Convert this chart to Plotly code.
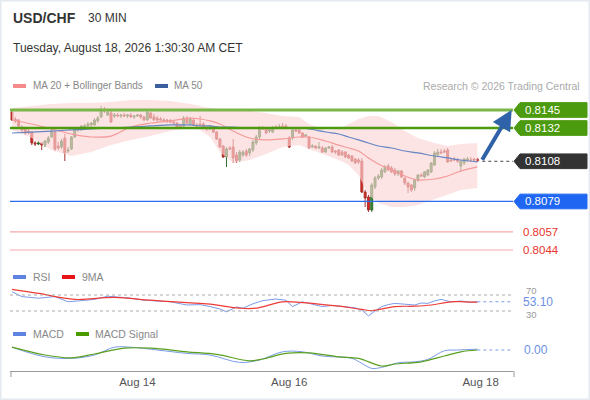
"""
USD/CHF 30 MIN chart (Trading Central style) rebuilt with plotly
price candles + MA20 / Bollinger + MA50, RSI panel, MACD panel
"""

import plotly.graph_objects as go

W, H = 590, 400
FONT = "Liberation Sans, Arial, sans-serif"

# ---- 30 min candles ----
candle_open = [
    .81436, .81385, .81378, .81327, .81313, .81298, .81291, .81212, .81205, .81212,
    .81197, .81219, .81255, .81291, .81190, .81183, .81248, .81154, .81169, .81255,
    .81306, .81306, .81327, .81335, .81342, .81342, .81371, .81400, .81450, .81414,
    .81428, .81407, .81414, .81407, .81414, .81407, .81414, .81400, .81407, .81414,
    .81400, .81378, .81428, .81400, .81392, .81385, .81378, .81378, .81371, .81363,
    .81356, .81335, .81335, .81392, .81349, .81378, .81342, .81349, .81349, .81327,
    .81313, .81327, .81291, .81241, .81190, .81111, .81176, .81183, .81125, .81089,
    .81125, .81154, .81140, .81161, .81212, .81255, .81320, .81313, .81298, .81291,
    .81327, .81327, .81335, .81335, .81248, .81248, .81306, .81306, .81284, .81262,
    .81255, .81183, .81190, .81176, .81176, .81147, .81176, .81183, .81154, .81161,
    .81147, .81147, .81125, .81118, .81096, .81089, .81082, .80858, .80822, .80729,
    .80894, .80959, .80967, .81003, .81046, .81032, .81017, .80988, .81010, .80959,
    .80923, .80909, .80887, .80945, .80981, .80967, .80981, .81003, .81053, .81125,
    .81147, .81154, .81161, .81089, .81096, .81089, .81046, .81068, .81089, .81089,
    .81096, .81096,
]
candle_high = [
    .81457, .81400, .81385, .81342, .81320, .81313, .81298, .81226, .81226, .81219,
    .81234, .81262, .81313, .81306, .81219, .81241, .81277, .81183, .81262, .81320,
    .81327, .81342, .81349, .81363, .81363, .81392, .81407, .81479, .81472, .81450,
    .81443, .81428, .81428, .81421, .81428, .81421, .81428, .81414, .81421, .81421,
    .81407, .81457, .81436, .81421, .81407, .81400, .81392, .81385, .81385, .81378,
    .81363, .81349, .81407, .81407, .81400, .81385, .81356, .81407, .81363, .81335,
    .81342, .81335, .81298, .81248, .81197, .81183, .81190, .81241, .81147, .81161,
    .81161, .81169, .81176, .81234, .81270, .81335, .81335, .81327, .81320, .81335,
    .81342, .81349, .81356, .81349, .81262, .81313, .81320, .81313, .81291, .81277,
    .81262, .81205, .81197, .81219, .81190, .81183, .81190, .81197, .81161, .81169,
    .81161, .81154, .81133, .81125, .81104, .81104, .81104, .80873, .80837, .80923,
    .80974, .80988, .81032, .81053, .81060, .81046, .81032, .81017, .81017, .80967,
    .80931, .80916, .80952, .80988, .80995, .81010, .81024, .81075, .81154, .81169,
    .81169, .81169, .81176, .81104, .81111, .81104, .81089, .81104, .81111, .81111,
    .81104, .81104,
]
candle_low = [
    .81371, .81356, .81327, .81291, .81270, .81277, .81197, .81190, .81197, .81161,
    .81183, .81205, .81248, .81154, .81161, .81169, .81082, .81140, .81161, .81248,
    .81291, .81298, .81313, .81320, .81327, .81335, .81356, .81392, .81428, .81407,
    .81356, .81392, .81400, .81392, .81400, .81392, .81392, .81385, .81400, .81385,
    .81371, .81371, .81385, .81371, .81363, .81371, .81363, .81356, .81356, .81342,
    .81320, .81320, .81327, .81349, .81342, .81335, .81327, .81335, .81320, .81298,
    .81306, .81284, .81234, .81176, .81104, .81039, .81161, .81068, .81068, .81075,
    .81111, .81111, .81118, .81147, .81197, .81241, .81306, .81277, .81284, .81284,
    .81313, .81313, .81320, .81320, .81176, .81234, .81291, .81277, .81248, .81255,
    .81169, .81176, .81169, .81169, .81140, .81140, .81169, .81140, .81133, .81118,
    .81118, .81104, .81096, .81075, .81060, .81060, .80851, .80750, .80714, .80714,
    .80880, .80945, .80952, .80995, .81010, .80995, .80974, .80974, .80959, .80909,
    .80851, .80858, .80866, .80931, .80967, .80959, .80974, .80995, .81046, .81118,
    .81133, .81140, .81068, .81075, .81082, .81068, .81003, .81053, .81075, .81075,
    .81075, .81075,
]
candle_close = [
    .81378, .81371, .81335, .81306, .81284, .81284, .81212, .81205, .81212, .81197,
    .81226, .81248, .81298, .81169, .81176, .81226, .81140, .81161, .81255, .81306,
    .81313, .81335, .81335, .81349, .81356, .81378, .81392, .81457, .81443, .81436,
    .81363, .81414, .81407, .81414, .81407, .81414, .81400, .81407, .81414, .81400,
    .81378, .81436, .81392, .81378, .81378, .81378, .81371, .81371, .81363, .81356,
    .81327, .81327, .81392, .81356, .81385, .81342, .81335, .81342, .81327, .81313,
    .81335, .81291, .81241, .81183, .81111, .81169, .81169, .81104, .81082, .81147,
    .81147, .81125, .81169, .81219, .81255, .81320, .81313, .81284, .81306, .81320,
    .81320, .81327, .81327, .81327, .81183, .81306, .81298, .81284, .81255, .81270,
    .81176, .81190, .81176, .81183, .81147, .81176, .81183, .81147, .81147, .81125,
    .81125, .81111, .81104, .81082, .81068, .81075, .80858, .80815, .80729, .80909,
    .80959, .80974, .81017, .81039, .81017, .81003, .80988, .81010, .80967, .80923,
    .80894, .80873, .80945, .80981, .80974, .81003, .81017, .81068, .81140, .81147,
    .81140, .81147, .81075, .81082, .81089, .81082, .81082, .81096, .81096, .81089,
    .81089, .81082,
]
candle_idx = list(range(len(candle_close)))

# MA20 + Bollinger Bands and MA50 (sampled along the candles)
band_idx = [0, 6, 12, 18, 24, 30, 36, 42, 48, 54, 57, 60, 63, 67, 72, 77,
            82, 87, 90, 95, 99, 102, 105, 108, 111, 115, 119, 123, 128, 132, 136, 141]
bb_upper = [.81464, .81479, .81493, .81501, .81501, .81508, .81522, .81522,
            .81515, .81493, .81479, .81464, .81457, .81450, .81443, .81428,
            .81407, .81400, .81349, .81306, .81313, .81349, .81385, .81407,
            .81407, .81363, .81298, .81248, .81212, .81190, .81205, .81212]
bb_lower = [.81306, .81248, .81161, .81118, .81147, .81197, .81234, .81262,
            .81298, .81320, .81306, .81255, .81147, .81068, .81089, .81133,
            .81183, .81197, .81169, .81125, .81089, .81053, .80981, .80837,
            .80779, .80750, .80750, .80765, .80808, .80844, .80873, .80887]
ma20 = [.81378, .81349, .81313, .81277, .81255, .81262, .81327, .81356,
        .81371, .81392, .81385, .81371, .81349, .81298, .81248, .81234,
        .81241, .81255, .81255, .81226, .81197, .81176, .81154, .81104,
        .81060, .81017, .80974, .80945, .80952, .80974, .81010, .81039]
ma50 = [.81284, .81291, .81298, .81306, .81313, .81320, .81327, .81335,
        .81342, .81342, .81335, .81335, .81327, .81327, .81320, .81320,
        .81320, .81320, .81313, .81291, .81277, .81255, .81234, .81212,
        .81190, .81176, .81154, .81140, .81118, .81104, .81089, .81075]

# RSI and its 9 period MA
rsi_idx = [0, 3, 8, 13, 17, 21, 25, 29, 33, 36, 40, 44, 48, 53, 57, 60, 63, 65,
           68, 70, 73, 76, 80, 83, 85, 88, 91, 94, 97, 101, 104, 106, 108, 110,
           112, 114, 116, 119, 122, 124, 126, 128, 130, 133, 136, 139, 141]
rsi = [78, 66, 62, 66, 53, 56, 59, 67, 64, 62, 57, 55, 53, 45, 46, 41, 35, 28,
       40, 37, 48, 56, 60, 57, 41, 53, 47, 41, 44, 41, 38, 32, 18, 30,
       41, 46, 49, 47, 45, 50, 49, 55, 59, 53, 55, 52, 53.1]
rsi_ma_idx = [0, 8, 19, 31, 42, 53, 60, 69, 74, 82, 88, 99, 106, 109, 116, 122,
              127, 133, 137, 141]
rsi_ma = [84, 74, 59, 64, 57, 51, 47, 37, 37, 53, 51, 42, 34, 31, 41, 42,
          45, 53, 53, 52]

# MACD and signal
macd_idx = [0, 10, 18, 25, 31, 36, 44, 53, 60, 69, 75, 82, 88, 94, 103, 106,
            109, 112, 117, 122, 126, 131, 135, 141]
macd = [.00014, -.00034, -.00042, -.00025, .00014, .00014, .0, -.00017,
        -.00025, -.00062, -.0005, -.00009, -.00009, -.0003, -.00042, -.00067,
        -.00092, -.00087, -.00064, -.00059, -.00047, -.00004, .0, .00004]
signal_idx = [0, 10, 18, 25, 34, 42, 53, 62, 72, 76, 83, 90, 99, 105, 112, 116,
              124, 131, 136, 141]
macd_signal = [.00014, -.00025, -.00039, -.0002, .00009, .00009, -.00009, -.00022,
               -.00054, -.00045, -.00017, -.00014, -.00034, -.00042, -.0008, -.0007,
               -.00059, -.0003, -.00009, .0]

tick_pos = [38, 84, 142]
tick_text = ["Aug 14", "Aug 16", "Aug 18"]

resist_levels = [0.8145, 0.8132]
last_price = 0.8108
support_levels = [0.8079]
target_levels = [0.8057, 0.8044]
rsi_bounds = [70, 30]
rsi_last = 53.10
macd_last = 0.00

# ---- layout helpers (pixel -> paper) ----
def px(x):
    return x / W


def py(y):
    return 1 - y / H


X_RANGE = [-0.61, 151.8]
BOX_H = 0.00053  # half height of the price tags, in price units

fig = go.Figure()

# Bollinger band fill
fig.add_trace(go.Scatter(x=band_idx, y=bb_upper, mode='lines',
                         line=dict(width=0, color='rgba(0,0,0,0)'),
                         hoverinfo='skip', showlegend=False))
fig.add_trace(go.Scatter(x=band_idx, y=bb_lower, mode='lines', fill='tonexty',
                         fillcolor='rgba(252, 214, 214, 0.65)',
                         line=dict(width=0, color='rgba(0,0,0,0)'),
                         hoverinfo='skip', showlegend=False))
# MA20 / MA50
fig.add_trace(go.Scatter(x=band_idx, y=ma20, mode='lines',
                         line=dict(color='#f59a9a', width=1.2, shape='spline'),
                         showlegend=False))
fig.add_trace(go.Scatter(x=band_idx, y=ma50, mode='lines',
                         line=dict(color='#6585c4', width=1.2, shape='spline'),
                         showlegend=False))

# candles
fig.add_trace(go.Candlestick(
    x=candle_idx, open=candle_open, high=candle_high, low=candle_low, close=candle_close,
    increasing=dict(fillcolor='#3a8c32', line=dict(color='#2d6a28', width=1)),
    decreasing=dict(fillcolor='#e4231d', line=dict(color='#a8322e', width=1)),
    whiskerwidth=0, showlegend=False,
))

# RSI panel
fig.add_trace(go.Scatter(x=rsi_idx, y=rsi, mode='lines', yaxis='y2',
                         line=dict(color='#7b9be8', width=1), showlegend=False))
fig.add_trace(go.Scatter(x=rsi_ma_idx, y=rsi_ma, mode='lines', yaxis='y2',
                         line=dict(color='#ee3b36', width=1.2, shape='spline'),
                         showlegend=False))

# MACD panel
fig.add_trace(go.Scatter(x=macd_idx, y=macd, mode='lines', yaxis='y3',
                         line=dict(color='#7b9be8', width=1, shape='spline'),
                         showlegend=False))
fig.add_trace(go.Scatter(x=signal_idx, y=macd_signal, mode='lines', yaxis='y3',
                         line=dict(color='#5aa01e', width=1.2, shape='spline'),
                         showlegend=False))

shapes = []
annotations = []


def text(x, y, s, size, color, xref='paper', yref='paper', anchor='left', **kw):
    annotations.append(dict(x=x, y=y, xref=xref, yref=yref, text=s, showarrow=False,
                            xanchor=anchor, yanchor='middle',
                            font=dict(family=FONT, size=size, color=color), **kw))


def swatch(x0, y0, color):
    shapes.append(dict(type='rect', xref='paper', yref='paper',
                       x0=px(x0), x1=px(x0 + 13), y0=py(y0 + 4), y1=py(y0),
                       fillcolor=color, line=dict(width=0)))


def price_tag(level, color):
    xt, xl, xr = px(514), px(520), px(587)
    path = (f"M {xt},{level} L {xl},{level + BOX_H} L {xr},{level + BOX_H} "
            f"L {xr},{level - BOX_H} L {xl},{level - BOX_H} Z")
    shapes.append(dict(type='path', xref='paper', yref='y', path=path,
                       fillcolor=color, line=dict(color=color, width=1)))
    text(px(523), level, f"{level:.4f}", 11.5, 'white', yref='y')


last_i = candle_idx[-1]

# resistance lines + tags
res_style = [('#7bb648', 3), ('#4c9a0e', 2.5)]
for lvl, (col, wd) in zip(resist_levels, res_style):
    shapes.append(dict(type='line', xref='x domain', yref='y', x0=0, x1=1,
                       y0=lvl, y1=lvl, line=dict(color=col, width=wd)))
    price_tag(lvl, '#4c9a0e')

# last price
shapes.append(dict(type='line', xref='x', yref='y', x0=last_i + 1.5, x1=X_RANGE[1],
                   y0=last_price, y1=last_price,
                   line=dict(color='#444', width=1, dash='dot')))
price_tag(last_price, '#333333')

# support
for lvl in support_levels:
    shapes.append(dict(type='line', xref='x domain', yref='y', x0=0, x1=1,
                       y0=lvl, y1=lvl, line=dict(color='#2a6df0', width=1.3)))
    price_tag(lvl, '#1f66f2')

for lvl in target_levels:
    shapes.append(dict(type='line', xref='x domain', yref='y', x0=0, x1=1,
                       y0=lvl, y1=lvl, line=dict(color='#f6a9a9', width=1.2)))
    text(px(521), lvl, f"{lvl:.4f}", 11.5, '#e8352f', yref='y')

# forecast arrow towards first resistance
annotations.append(dict(x=151.4, y=resist_levels[0], xref='x', yref='y',
                        ax=last_i + 1.2, ay=last_price, axref='x', ayref='y',
                        text='', showarrow=True, arrowhead=2, arrowsize=1,
                        arrowwidth=4, arrowcolor='#2f62a8', standoff=0))

# RSI reference lines and labels
for b in rsi_bounds:
    shapes.append(dict(type='line', xref='x domain', yref='y2', x0=0, x1=1, y0=b, y1=b,
                       line=dict(color='#aaaaaa', width=1, dash='dot')))
text(px(524), py(290), str(rsi_bounds[0]), 9.5, '#999999')
text(px(524), py(314.5), str(rsi_bounds[1]), 9.5, '#999999')
shapes.append(dict(type='line', xref='x', yref='y2', x0=last_i, x1=X_RANGE[1],
                   y0=rsi_last, y1=rsi_last,
                   line=dict(color='#7b9be8', width=1, dash='dot')))
text(px(522), rsi_last, f"{rsi_last:.2f}", 12, '#6d8fe6', yref='y2',
     bgcolor='white', borderpad=0)

# MACD last value
shapes.append(dict(type='line', xref='x', yref='y3', x0=last_i, x1=X_RANGE[1],
                   y0=macd_last, y1=macd_last,
                   line=dict(color='#7b9be8', width=1, dash='dot')))
text(px(522), macd_last, f"{macd_last:.2f}", 12, '#6d8fe6', yref='y3')

# header
text(px(11), py(18), "<b>USD/CHF</b>", 14, '#333333')
text(px(86), py(18), "30 MIN", 12, '#333333')
text(px(11), py(48), "Tuesday, August 18, 2026 1:30:30 AM CET", 12, '#333333')

# legends
swatch(13, 84, '#f78b8b')
text(px(31), py(86), "MA 20 + Bollinger Bands", 10, '#888888')
swatch(155, 84, '#3c5f9e')
text(px(172), py(86), "MA 50", 10, '#888888')
text(px(582), py(86), "Research © 2026 Trading Central", 10.5, '#aaaaaa', anchor='right')

swatch(13, 275, '#5e83e0')
text(px(31), py(277), "RSI", 10.5, '#888888')
swatch(62, 275, '#e8141a')
text(px(80), py(277), "9MA", 10.5, '#888888')

swatch(13, 332, '#5e83e0')
text(px(31), py(334), "MACD", 10.5, '#888888')
swatch(76, 332, '#4a9a00')
text(px(93), py(334), "MACD Signal", 10.5, '#888888')

# x axis end ticks
for xe in (11, 514):
    shapes.append(dict(type='line', xref='paper', yref='paper', x0=px(xe), x1=px(xe),
                       y0=py(371), y1=py(377), line=dict(color='#999999', width=1)))

# light frame
shapes.append(dict(type='rect', xref='paper', yref='paper', x0=0, x1=1, y0=0, y1=1,
                   line=dict(color='#e4eaf0', width=3), layer='below'))

hidden = dict(visible=False, showgrid=False, zeroline=False, fixedrange=True)

fig.update_layout(
    width=W, height=H,
    margin=dict(l=0, r=0, t=0, b=0),
    paper_bgcolor='white', plot_bgcolor='rgba(0,0,0,0)',
    showlegend=False,
    font=dict(family=FONT),
    boxgap=0.15,
    xaxis=dict(domain=[px(10), px(513)], range=X_RANGE, anchor='y3',
               showgrid=False, zeroline=False, showline=True, linecolor='#999999',
               linewidth=1, tickmode='array', tickvals=tick_pos, ticktext=tick_text,
               ticks='', tickfont=dict(size=11.5, color='#555555', family=FONT),
               rangeslider=dict(visible=False)),
    yaxis=dict(domain=[py(262), py(95)], range=[0.803533, 0.815582], **hidden),
    yaxis2=dict(domain=[py(319), py(285)], range=[10, 95], anchor='x', **hidden),
    yaxis3=dict(domain=[py(371), py(343)], range=[-0.00105, 0.00035], anchor='x', **hidden),
    shapes=shapes,
    annotations=annotations,
)

# the page body has a default 8px margin; drop it so the chart sits at 0,0
fig.write_html("out.html", config={'displayModeBar': False},
               post_script="document.body.style.margin='0';"
                           "document.body.style.overflow='hidden';")
